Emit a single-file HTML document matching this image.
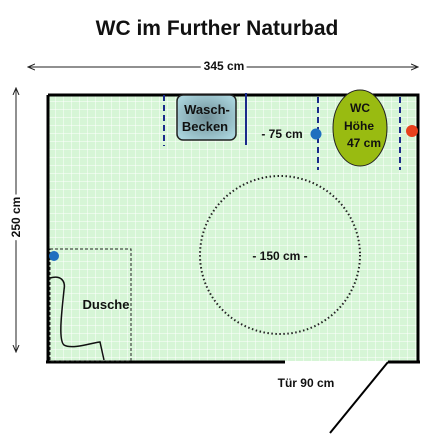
<!DOCTYPE html>
<html><head><meta charset="utf-8"><style>
body{margin:0;background:#fff;font-family:"Liberation Sans",Arial,sans-serif}
svg{display:block}
text{font-family:"Liberation Sans",Arial,sans-serif;font-weight:bold;fill:#111}
</style></head><body>
<svg width="444" height="445" viewBox="0 0 444 445">
<defs>
<pattern id="grid" width="8" height="8" patternUnits="userSpaceOnUse" x="48" y="94">
<rect width="8" height="8" fill="#d6f5d6"/>
<path d="M8 0V8M0 8H8" stroke="#fff" stroke-width="1"/>
</pattern>
<radialGradient id="basin" cx="50%" cy="50%" r="60%"><stop offset="0" stop-color="#6f8e96"/><stop offset="1" stop-color="#a9d3dc"/></radialGradient>
<marker id="ah" markerWidth="8" markerHeight="8" refX="7" refY="4" orient="auto-start-reverse"><path d="M0 1L7 4L0 7" fill="none" stroke="#222" stroke-width="1"/></marker>
</defs>
<text x="217" y="35" font-size="21" text-anchor="middle">WC im Further Naturbad</text>
<line x1="28" y1="67" x2="418" y2="67" stroke="#222" marker-start="url(#ah)" marker-end="url(#ah)"/>
<text x="224" y="70" font-size="12" text-anchor="middle" style="paint-order:stroke" stroke="#fff" stroke-width="6">345 cm</text>
<line x1="16" y1="88" x2="16" y2="352" stroke="#222" marker-start="url(#ah)" marker-end="url(#ah)"/>
<text transform="translate(20,217) rotate(-90)" font-size="12" text-anchor="middle" style="paint-order:stroke" stroke="#fff" stroke-width="6">250 cm</text>
<rect x="48" y="94" width="370" height="267" fill="url(#grid)"/>
<path d="M48 95H418V362M48 95V362M46 362H285M388 362H420" fill="none" stroke="#000" stroke-width="3"/>
<line x1="388" y1="362" x2="330" y2="433" stroke="#000" stroke-width="2"/>
<text x="306" y="387" font-size="12" text-anchor="middle">Tür 90 cm</text>
<rect x="50" y="249" width="81" height="112" fill="none" stroke="#222" stroke-dasharray="3,2"/>
<path d="M50 278C60 275 66 280 64 290C62 310 58 340 64 345C72 350 95 342 100 342L104 360" fill="none" stroke="#111" stroke-width="1.5"/>
<circle cx="54" cy="256" r="5" fill="#1f6fbf"/>
<text x="106" y="309" font-size="13" text-anchor="middle">Dusche</text>
<ellipse cx="280" cy="255" rx="80" ry="79" fill="none" stroke="#222" stroke-width="2" stroke-dasharray="1.5,2.5"/>
<text x="280" y="260" font-size="12" text-anchor="middle">- 150 cm -</text>
<line x1="164" y1="95" x2="164" y2="146" stroke="#1a2a8a" stroke-width="2" stroke-dasharray="6,4"/>
<line x1="246" y1="93" x2="246" y2="145" stroke="#1a2a8a" stroke-width="2"/>
<rect x="177" y="95" width="59" height="45" rx="6" fill="url(#basin)" stroke="#222" stroke-width="1.5"/>
<text x="207" y="114" font-size="13" text-anchor="middle">Wasch-</text>
<text x="205" y="131" font-size="13" text-anchor="middle">Becken</text>
<text x="282" y="138" font-size="12" text-anchor="middle">- 75 cm</text>
<line x1="318" y1="97" x2="318" y2="170" stroke="#1a2a8a" stroke-width="2" stroke-dasharray="6,4"/>
<line x1="400" y1="97" x2="400" y2="170" stroke="#1a2a8a" stroke-width="2" stroke-dasharray="6,4"/>
<circle cx="316" cy="134" r="5.5" fill="#1f6fbf"/>
<circle cx="412" cy="131" r="6" fill="#e8401c"/>
<ellipse cx="360" cy="128" rx="27" ry="38" fill="#99bb11" stroke="#222" stroke-width="1"/>
<text x="360" y="112" font-size="12" text-anchor="middle">WC</text>
<text x="359" y="130" font-size="12" text-anchor="middle">Höhe</text>
<text x="364" y="147" font-size="12" text-anchor="middle">47 cm</text>
</svg>
</body></html>
